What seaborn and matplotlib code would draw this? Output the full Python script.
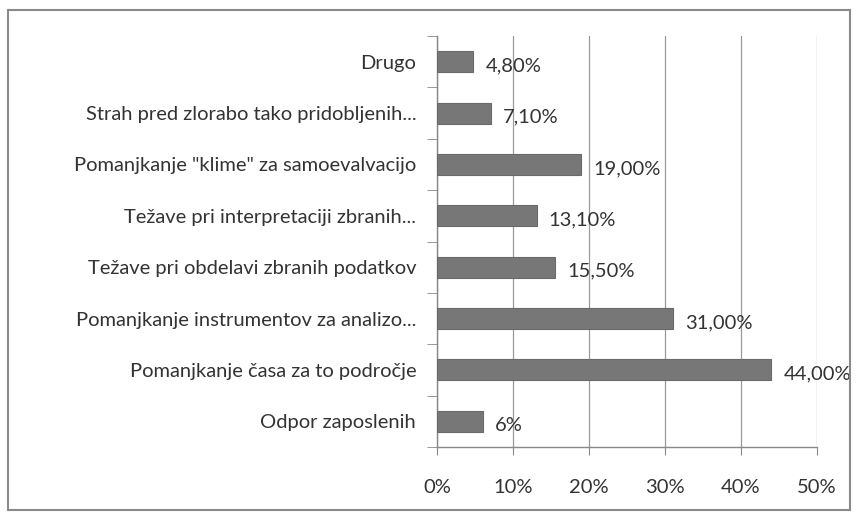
import matplotlib
matplotlib.use("Agg")
import matplotlib.pyplot as plt
import seaborn as sns
import pandas as pd
from matplotlib.patches import Rectangle

categories = [
    "Drugo",
    "Strah pred zlorabo tako pridobljenih...",
    "Pomanjkanje \"klime\" za samoevalvacijo",
    "Težave pri interpretaciji zbranih...",
    "Težave pri obdelavi zbranih podatkov",
    "Pomanjkanje instrumentov za analizo...",
    "Pomanjkanje časa za to področje",
    "Odpor zaposlenih",
]
values = [4.8, 7.1, 19.0, 13.1, 15.5, 31.0, 44.0, 6.0]
value_labels = ["4,80%", "7,10%", "19,00%", "13,10%", "15,50%", "31,00%", "44,00%", "6%"]
x_ticks = [0, 10, 20, 30, 40, 50]
x_tick_labels = ["0%", "10%", "20%", "30%", "40%", "50%"]

df = pd.DataFrame({"kategorija": categories, "delez": values})

sns.set_style("white")
plt.rcParams["font.family"] = ["Lato", "DejaVu Sans"]

fig = plt.figure(figsize=(8.58, 5.18), dpi=100)
ax = fig.add_axes([437 / 858, 1 - 447 / 518, 380 / 858, 411 / 518])

sns.barplot(data=df, x="delez", y="kategorija", color="#777777", width=0.41,
            saturation=1, edgecolor="#6a6a6a", linewidth=0.8, ax=ax, zorder=3)

for i, (v, lab) in enumerate(zip(values, value_labels)):
    ax.text(v + 1.6, i + 0.08, lab, va="center", ha="left", fontsize=14.5, color="#333333", zorder=4)

ax.set_xlim(0, 50)
ax.set_ylim(len(categories) - 0.5, -0.5)
ax.set_xticks(x_ticks)
ax.set_xticklabels(x_tick_labels, fontsize=14.5, color="#333333")
ax.tick_params(axis="y", labelsize=14.5, labelcolor="#333333", length=0, pad=15)
ax.tick_params(axis="x", length=6, color="#888888", direction="out", pad=17, bottom=True)
ax.set_xlabel("")
ax.set_ylabel("")
ax.xaxis.grid(True, color="#9a9a9a", linewidth=0.9, zorder=0)
ax.set_axisbelow(True)

# Excel-style tick marks between categories on the value axis
ax.set_yticks([i + 0.5 for i in range(-1, len(categories))], minor=True)
ax.tick_params(axis="y", which="minor", length=7, color="#888888", direction="out", left=True)

for side in ["top", "right"]:
    ax.spines[side].set_visible(False)
for side in ["left", "bottom"]:
    ax.spines[side].set_color("#888888")
    ax.spines[side].set_linewidth(1.0)

fig.patches.append(Rectangle((8 / 858, 1 - 510 / 518), 842 / 858, 500 / 518,
                             transform=fig.transFigure, fill=False,
                             edgecolor="#8a8a8a", linewidth=1.5))

fig.savefig("out.png", dpi=100)
